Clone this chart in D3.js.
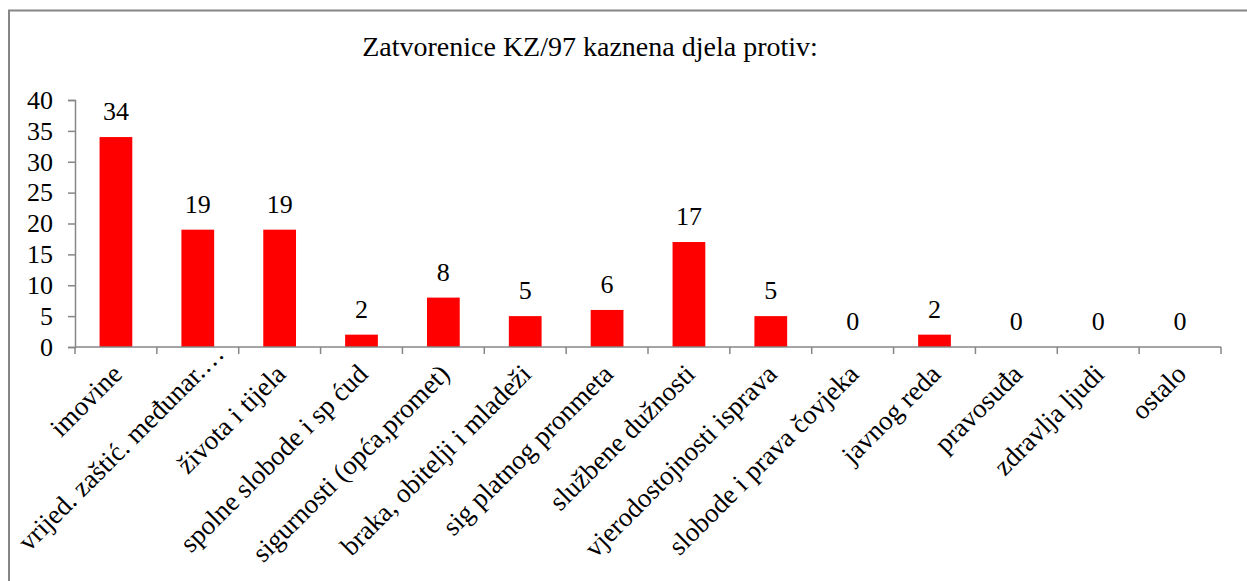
<!DOCTYPE html>
<html>
<head>
<meta charset="utf-8">
<script src="https://cdn.jsdelivr.net/npm/d3@7"></script>
<style>
  body { margin: 0; background: #fff; }
  svg text { font-family: "Liberation Serif", "Times New Roman", serif; fill: #000; }
</style>
</head>
<body>
<div id="chart"></div>
<script>
// data
const categories = [
    "imovine", "vrijed. zaštić. međunar.…", "života i tijela", "spolne slobode i sp ćud",
    "sigurnosti (opća,promet)", "braka, obitelji i mladeži", "sig platnog pronmeta",
    "službene dužnosti", "vjerodostojnosti isprava", "slobode i prava čovjeka",
    "javnog reda", "pravosuđa", "zdravlja ljudi", "ostalo"
];
const values = [34, 19, 19, 2, 8, 5, 6, 17, 5, 0, 2, 0, 0, 0];
const yTicks = [0, 5, 10, 15, 20, 25, 30, 35, 40];
const title = "Zatvorenice KZ/97 kaznena djela protiv:";

const width = 1247, height = 581;
const margin = { top: 100, right: 26, bottom: 234, left: 75 };
const serif = "'Liberation Serif', 'Times New Roman', serif";

const svg = d3.select("#chart").append("svg")
    .attr("width", width)
    .attr("height", height);

// chart frame (only left and top edges show in the crop)
svg.append("rect")
    .attr("x", 9).attr("y", 10.5)
    .attr("width", width + 20).attr("height", height + 20)
    .attr("fill", "none")
    .attr("stroke", "#868686")
    .attr("stroke-width", 2);

svg.append("text")
    .attr("x", 590).attr("y", 56)
    .attr("text-anchor", "middle")
    .style("font-family", serif)
    .style("font-size", "28px")
    .text(title);

const x = d3.scaleBand()
    .domain(categories)
    .range([margin.left, width - margin.right])
    .paddingInner(0.6)
    .paddingOuter(0.3);

const y = d3.scaleLinear()
    .domain([0, 40])
    .range([height - margin.bottom, margin.top]);

const axisColor = "#868686";

// y axis
const yAxis = svg.append("g")
    .attr("transform", "translate(" + margin.left + ",0)")
    .call(d3.axisLeft(y).tickValues(yTicks).tickSize(7).tickPadding(15));
yAxis.attr("font-family", null).attr("font-size", null);
yAxis.select(".domain").attr("stroke", axisColor).attr("stroke-width", 1.5);
yAxis.selectAll(".tick line").attr("stroke", axisColor).attr("stroke-width", 1.5);
yAxis.selectAll(".tick text")
    .style("font-size", "26px")
    .style("font-family", serif)
    .attr("fill", "#000");

// bars
svg.selectAll(".bar")
    .data(values)
    .join("rect")
    .attr("class", "bar")
    .attr("x", (d, i) => x(categories[i]))
    .attr("y", d => y(d))
    .attr("width", x.bandwidth())
    .attr("height", d => y(0) - y(d))
    .attr("fill", "#ff0000");

// x axis line + ticks at band edges
const x0 = margin.left, x1 = width - margin.right;
const step = (x1 - x0) / categories.length;
svg.append("line")
    .attr("x1", x0).attr("x2", x1)
    .attr("y1", y(0)).attr("y2", y(0))
    .attr("stroke", axisColor).attr("stroke-width", 1.5);
svg.selectAll(".xtick")
    .data(d3.range(categories.length + 1))
    .join("line")
    .attr("class", "xtick")
    .attr("x1", i => x0 + i * step).attr("x2", i => x0 + i * step)
    .attr("y1", y(0)).attr("y2", y(0) + 7)
    .attr("stroke", axisColor).attr("stroke-width", 1.5);

// data labels
svg.selectAll(".vlabel")
    .data(values)
    .join("text")
    .attr("class", "vlabel")
    .attr("x", (d, i) => x(categories[i]) + x.bandwidth() / 2)
    .attr("y", d => y(d) - 17)
    .attr("text-anchor", "middle")
    .style("font-family", serif)
    .style("font-size", "26px")
    .text(d => d);

// category labels, rotated
const labelY = 369;
svg.selectAll(".clabel")
    .data(categories)
    .join("text")
    .attr("class", "clabel")
    .attr("transform", d => "translate(" + (x(d) + x.bandwidth() / 2 + 1) + "," + labelY + ") rotate(-45)")
    .attr("text-anchor", "end")
    .attr("dy", "0.35em")
    .style("font-family", serif)
    .style("font-size", "27px")
    .text(d => d)
    .each(function(d) {
        // like Excel: slide a label up along its slant if it runs past the frame
        const r = this.getBoundingClientRect();
        const minLeft = 12;
        if (r.left < minLeft) {
            const s = minLeft - r.left;
            d3.select(this).attr("transform", "translate(" + (x(d) + x.bandwidth() / 2 + 1 + s) + "," + (labelY - s) + ") rotate(-45)");
        }
    });
</script>
</body>
</html>
